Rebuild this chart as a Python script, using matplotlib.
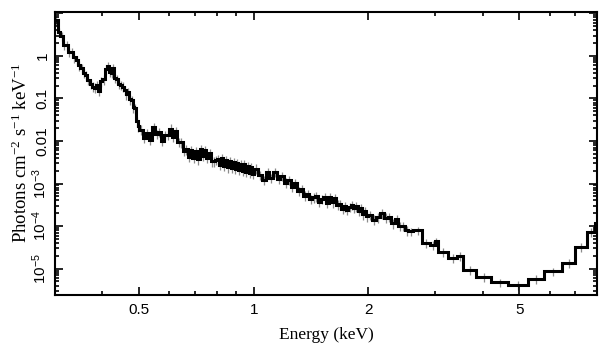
import matplotlib
matplotlib.use("Agg")
import matplotlib.pyplot as plt
import numpy as np
from matplotlib.ticker import FixedLocator, FixedFormatter

plt.rcParams['mathtext.fontset'] = 'custom'
plt.rcParams['mathtext.rm'] = 'Liberation Serif'
plt.rcParams['mathtext.it'] = 'Liberation Serif:italic'
plt.rcParams['mathtext.sf'] = 'Liberation Sans'

# ---- data: bin edges (keV) and flux (photons cm^-2 s^-1 keV^-1) ----
edges_a = [0.300, 0.305, 0.310, 0.315, 0.320, 0.325, 0.330, 0.335, 0.340, 0.345,
           0.350, 0.355, 0.360, 0.365, 0.370, 0.375, 0.380, 0.385, 0.390, 0.395,
           0.400, 0.405, 0.410, 0.415, 0.420, 0.425, 0.430, 0.435, 0.440, 0.445,
           0.450, 0.455, 0.460, 0.465, 0.470, 0.475, 0.480, 0.485, 0.490, 0.495, 0.500]
edges_b = [0.51, 0.52, 0.53, 0.54, 0.55, 0.56, 0.57, 0.58, 0.59, 0.60,
           0.61, 0.62, 0.63, 0.64, 0.65, 0.66, 0.67, 0.68, 0.69, 0.70,
           0.71, 0.72, 0.73, 0.74, 0.75, 0.76, 0.77, 0.78, 0.79, 0.80,
           0.81, 0.82, 0.83, 0.84, 0.85, 0.86, 0.87, 0.88, 0.89, 0.90,
           0.91, 0.92, 0.93, 0.94, 0.95, 0.96, 0.97, 0.98, 0.99, 1.00]
edges_c = [1.025, 1.050, 1.075, 1.100, 1.125, 1.150, 1.175, 1.200, 1.225, 1.250,
           1.275, 1.300, 1.325, 1.350, 1.375, 1.400, 1.425, 1.450, 1.475, 1.500,
           1.525, 1.550, 1.575, 1.600, 1.625, 1.650, 1.675, 1.700, 1.725, 1.750,
           1.775, 1.800, 1.825, 1.850, 1.875, 1.900, 1.925, 1.950, 1.975, 2.000]
edges_d = [2.05, 2.10, 2.15, 2.20, 2.25, 2.30, 2.35, 2.40, 2.45, 2.50, 2.55]
edges_e = [2.63, 2.77, 2.91, 3.00, 3.05, 3.25, 3.43, 3.55, 3.85, 4.21,
           4.67, 5.27, 5.81, 6.48, 7.01, 7.54, 7.91, 8.40]

flux_a = [7.0, 3.6, 2.9, 1.8, 1.75, 1.25, 1.2, 0.92, 0.80, 0.60,
          0.52, 0.40, 0.36, 0.27, 0.22, 0.19, 0.18, 0.21, 0.15, 0.25,
          0.28, 0.50, 0.58, 0.42, 0.40, 0.52, 0.30, 0.29, 0.22, 0.21,
          0.19, 0.16, 0.125, 0.14, 0.095, 0.092, 0.062, 0.058, 0.029, 0.022]
flux_b = [0.0185, 0.0118, 0.0155, 0.0105, 0.0215, 0.0145, 0.0162, 0.0100, 0.0138, 0.0140,
          0.0195, 0.0125, 0.0170, 0.0095, 0.0092, 0.0058, 0.0064, 0.0042, 0.0061, 0.0040,
          0.0058, 0.0037, 0.0064, 0.0044, 0.0061, 0.0040, 0.0053, 0.0033, 0.0033, 0.0036,
          0.0038, 0.0027, 0.0040, 0.0026, 0.0036, 0.0024, 0.0033, 0.0023, 0.0032, 0.0022,
          0.0030, 0.0021, 0.0029, 0.0020, 0.0028, 0.0019, 0.0026, 0.0018, 0.0024, 0.0017]
flux_c = [0.00225, 0.00160, 0.00120, 0.00190, 0.00135, 0.00185, 0.00130, 0.00150, 0.00105, 0.00122,
          0.00085, 0.00102, 0.00068, 0.00074, 0.00052, 0.00056, 0.00044, 0.00047, 0.00050, 0.00037,
          0.00043, 0.00047, 0.00035, 0.00047, 0.00036, 0.00045, 0.00032, 0.00033, 0.00025, 0.00029,
          0.00024, 0.00028, 0.00031, 0.00027, 0.00029, 0.00023, 0.00026, 0.00019, 0.00022, 0.00017]
flux_d = [1.85e-4, 1.42e-4, 1.60e-4, 2.0e-4, 1.58e-4, 1.66e-4, 1.15e-4, 1.45e-4, 1.02e-4, 1.0e-4,
          8.0e-5]
flux_e = [7.5e-5, 8.0e-5, 4.0e-5, 3.6e-5, 4.4e-5, 2.45e-5, 1.77e-5, 1.97e-5, 9.2e-6,
          6.3e-6, 4.8e-6, 4.1e-6, 5.7e-6, 8.7e-6, 1.35e-5, 3.2e-5, 7.2e-5, 1.18e-4]

rel_err_dense = 0.25
rel_err_coarse = 0.22

x_ticks = [0.5, 1, 2, 5]
x_ticklabels = ['0.5', '1', '2', '5']
x_minor = [0.3, 0.4, 0.6, 0.7, 0.8, 0.9, 3, 4, 6, 7, 8]
y_ticks = [1e-5, 1e-4, 1e-3, 1e-2, 1e-1, 1, 10]
y_ticklabels = [r'$\mathsf{10^{-5}}$', r'$\mathsf{10^{-4}}$', r'$\mathsf{10^{-3}}$',
                '0.01', '0.1', '1', '']

# ---- build arrays ----
edges = np.array(edges_a + edges_b + edges_c + edges_d + edges_e)
flux = np.array(flux_a + flux_b + flux_c + flux_d + flux_e)
centers = np.sqrt(edges[:-1] * edges[1:])
n_dense = len(flux_a) + len(flux_b) + len(flux_c) + len(flux_d)
rel = np.where(np.arange(len(flux)) < n_dense, rel_err_dense, rel_err_coarse)
err = flux * rel

fig = plt.figure(figsize=(6.09, 3.57), dpi=100)
ax = fig.add_axes([55/609, 1 - 295/357, 542/609, (295 - 11.5)/357])

ax.vlines(centers, flux - err, flux + err, color='0.55', lw=0.9, zorder=1)
ax.stairs(flux, edges, baseline=None, color='black', lw=2.2, zorder=2)

ax.set_xscale('log')
ax.set_yscale('log')
ax.set_xlim(0.3, 8.0)
ax.set_ylim(2.4e-6, 11)

ax.xaxis.set_major_locator(FixedLocator(x_ticks))
ax.xaxis.set_major_formatter(FixedFormatter(x_ticklabels))
ax.xaxis.set_minor_locator(FixedLocator(x_minor))
ax.xaxis.set_minor_formatter(FixedFormatter([''] * len(x_minor)))

ax.yaxis.set_major_locator(FixedLocator(y_ticks))
ax.yaxis.set_major_formatter(FixedFormatter(y_ticklabels))
ymin = []
for d in [1e-6, 1e-5, 1e-4, 1e-3, 1e-2, 1e-1, 1]:
    for m in range(2, 10):
        ymin.append(m * d)
ax.yaxis.set_minor_locator(FixedLocator(ymin))

ax.tick_params(which='both', direction='in', top=True, right=True, width=1.2, color='black')
ax.tick_params(which='major', length=6)
ax.tick_params(which='minor', length=3)
ax.tick_params(axis='x', which='major', labelsize=11, pad=6)
ax.tick_params(axis='y', which='major', labelsize=11, pad=4, labelrotation=90)
for lab in ax.get_xticklabels() + ax.get_yticklabels():
    lab.set_fontfamily('Liberation Sans')
for lab in ax.get_yticklabels():
    lab.set_verticalalignment('center')

for s in ax.spines.values():
    s.set_linewidth(1.5)

ax.set_xlabel('Energy (keV)', fontsize=12.5, family='Liberation Serif', labelpad=7)
ax.set_ylabel(r'Photons cm$^{-2}$ s$^{-1}$ keV$^{-1}$', fontsize=13.5,
              family='Liberation Serif', labelpad=0)

fig.savefig('out.png', dpi=100)
